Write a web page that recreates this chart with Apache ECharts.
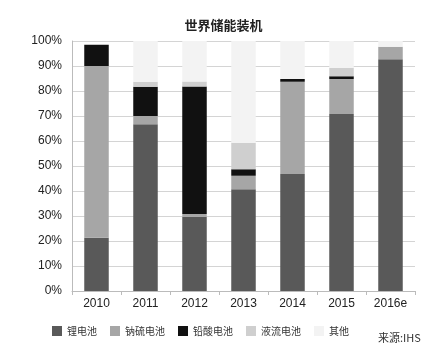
<!DOCTYPE html>
<html>
<head>
<meta charset="utf-8">
<script src="https://cdn.jsdelivr.net/npm/echarts@6/dist/echarts.min.js"></script>
<style>
html,body{margin:0;padding:0;background:#fff;}
#main{width:447px;height:352px;}
</style>
</head>
<body>
<div id="main"></div>
<script>
// 年份
var years = ['2010', '2011', '2012', '2013', '2014', '2015', '2016e'];
// 各类储能占比 (%)
var liData   = [21.3, 66.7, 29.7, 40.7, 46.8, 70.8, 92.7];
var naData   = [68.7, 3.3, 1.1, 5.4, 36.9, 14.0, 5.0];
var pbData   = [8.5, 11.7, 51.0, 2.6, 1.1, 1.1, 0];
var flowData = [0, 2.0, 2.0, 10.6, 0, 3.4, 0];
var otherData = [0, 16.3, 16.2, 40.7, 15.2, 10.7, 2.3];
var names = ['锂电池', '钠硫电池', '铅酸电池', '液流电池', '其他'];
var colors = ['#595959', '#a6a6a6', '#111111', '#cfcfcf', '#f3f3f3'];

var myChart = echarts.init(document.getElementById('main'));
var font = 'Liberation Sans, Arial, sans-serif';

function mk(i, data) {
  return {
    name: names[i],
    type: 'bar',
    stack: 'all',
    barWidth: '50%',
    data: data,
    itemStyle: { color: colors[i] }
  };
}

option = {
  backgroundColor: '#fff',
  animation: false,
  title: {
    text: '世界储能装机',
    left: 'center',
    top: 14,
    textStyle: { fontSize: 13, fontWeight: 'bold', color: '#222', fontFamily: 'Noto Sans CJK SC' }
  },
  legend: {
    left: 47,
    top: 321,
    itemWidth: 10,
    itemHeight: 10,
    itemGap: 13,
    icon: 'rect',
    textStyle: { fontSize: 10, color: '#333', fontFamily: 'Noto Sans CJK SC' },
    data: names
  },
  graphic: [{
    type: 'text',
    left: 378,
    top: 332,
    style: { text: '来源:IHS', fontSize: 11, fill: '#333', fontFamily: 'Noto Sans CJK SC' }
  }],
  grid: { left: 72, right: 32, top: 41, bottom: 61 },
  xAxis: {
    type: 'category',
    data: years,
    axisLine: { lineStyle: { color: '#bbb' } },
    axisTick: { show: true, alignWithLabel: false, length: 4, lineStyle: { color: '#bbb' } },
    axisLabel: { fontSize: 12, color: '#222', margin: 7, fontFamily: font }
  },
  yAxis: {
    type: 'value',
    min: 0,
    max: 100,
    interval: 10,
    axisLine: { show: true, lineStyle: { color: '#bbb' } },
    axisTick: { show: false },
    axisLabel: { formatter: '{value}%', fontSize: 12, color: '#222', margin: 10, fontFamily: font },
    splitLine: { lineStyle: { color: '#d4d4d4' } }
  },
  series: [
    mk(0, liData),
    mk(1, naData),
    mk(2, pbData),
    mk(3, flowData),
    mk(4, otherData)
  ]
};

myChart.setOption(option);
</script>
</body>
</html>
